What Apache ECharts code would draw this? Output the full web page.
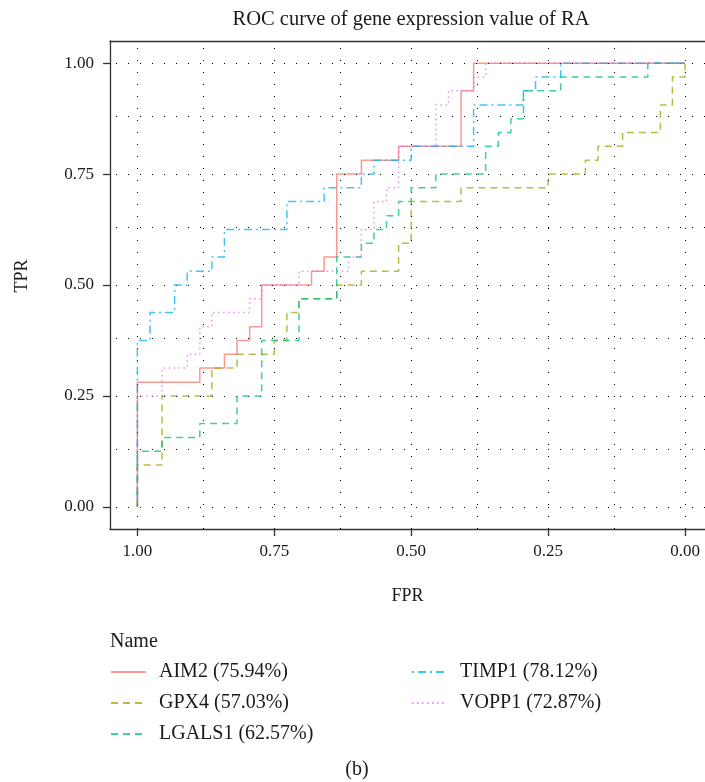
<!DOCTYPE html>
<html><head><meta charset="utf-8">
<script src="https://cdn.jsdelivr.net/npm/echarts@6/dist/echarts.min.js"></script>
<style>html,body{margin:0;padding:0;background:#fff}#c{width:705px;height:782px}</style>
</head><body><div id="c"></div>
<script>
// ---- data (x = value on the reversed "FPR" axis, y = TPR) ----
const tickValues = [0, 0.25, 0.5, 0.75, 1];
const tickLabels = ['0.00', '0.25', '0.50', '0.75', '1.00'];
const gridValues = [0, 0.125, 0.25, 0.375, 0.5, 0.625, 0.75, 0.875, 1];
const seriesNames = ['AIM2 (75.94%)', 'GPX4 (57.03%)', 'LGALS1 (62.57%)', 'TIMP1 (78.12%)', 'VOPP1 (72.87%)'];

const aim2X = [1,1,0.886,0.886,0.841,0.841,0.818,0.818,0.795,0.795,0.773,0.773,0.682,0.682,0.659,0.659,0.636,0.636,0.591,0.591,0.523,0.523,0.409,0.409,0.386,0.386,0];
const aim2Y = [0,0.281,0.281,0.313,0.313,0.344,0.344,0.375,0.375,0.406,0.406,0.5,0.5,0.531,0.531,0.563,0.563,0.75,0.75,0.781,0.781,0.813,0.813,0.938,0.938,1,1];

const gpx4X = [1,1,0.955,0.955,0.864,0.864,0.818,0.818,0.75,0.75,0.727,0.727,0.705,0.705,0.636,0.636,0.591,0.591,0.523,0.523,0.5,0.5,0.409,0.409,0.25,0.25,0.182,0.182,0.159,0.159,0.114,0.114,0.045,0.045,0.023,0.023,0,0];
const gpx4Y = [0,0.094,0.094,0.25,0.25,0.313,0.313,0.344,0.344,0.375,0.375,0.438,0.438,0.469,0.469,0.5,0.5,0.531,0.531,0.594,0.594,0.688,0.688,0.719,0.719,0.75,0.75,0.781,0.781,0.813,0.813,0.844,0.844,0.906,0.906,0.969,0.969,1];

const lgals1X = [1,1,0.955,0.955,0.886,0.886,0.818,0.818,0.773,0.773,0.705,0.705,0.636,0.636,0.591,0.591,0.568,0.568,0.545,0.545,0.523,0.523,0.5,0.5,0.455,0.455,0.364,0.364,0.341,0.341,0.318,0.318,0.295,0.295,0.227,0.227,0.068,0.068,0];
const lgals1Y = [0,0.125,0.125,0.156,0.156,0.188,0.188,0.25,0.25,0.375,0.375,0.469,0.469,0.563,0.563,0.594,0.594,0.625,0.625,0.656,0.656,0.688,0.688,0.719,0.719,0.75,0.75,0.813,0.813,0.844,0.844,0.875,0.875,0.938,0.938,0.969,0.969,1,1];

const timp1X = [1,1,0.977,0.977,0.932,0.932,0.909,0.909,0.864,0.864,0.841,0.841,0.727,0.727,0.659,0.659,0.591,0.591,0.568,0.568,0.5,0.5,0.386,0.386,0.295,0.295,0.273,0.273,0.227,0.227,0];
const timp1Y = [0,0.375,0.375,0.438,0.438,0.5,0.5,0.531,0.531,0.563,0.563,0.625,0.625,0.688,0.688,0.719,0.719,0.75,0.75,0.781,0.781,0.813,0.813,0.906,0.906,0.938,0.938,0.969,0.969,1,1];

const vopp1X = [1,1,0.955,0.955,0.909,0.909,0.886,0.886,0.864,0.864,0.795,0.795,0.773,0.773,0.705,0.705,0.614,0.614,0.591,0.591,0.568,0.568,0.545,0.545,0.523,0.523,0.455,0.455,0.432,0.432,0.386,0.386,0.364,0.364,0];
const vopp1Y = [0,0.25,0.25,0.313,0.313,0.344,0.344,0.406,0.406,0.438,0.438,0.469,0.469,0.5,0.5,0.531,0.531,0.563,0.563,0.625,0.625,0.688,0.688,0.719,0.719,0.813,0.813,0.906,0.906,0.938,0.938,0.969,0.969,1,1];

// ---- styling ----
const F = '"Liberation Serif", "DejaVu Serif", serif';
const TXT = '#1a1a1a';
const AX = '#333';
const curveStyles = [
  { color: '#F8766D', type: 'solid' },
  { color: '#A3A500', type: [7, 5] },
  { color: '#00BF7D', type: [7, 5] },
  { color: '#00B0F6', type: [2, 4, 8, 4] },
  { color: '#E76BF3', type: [1.5, 3.5] }
];
const xs = [aim2X, gpx4X, lgals1X, timp1X, vopp1X];
const ys = [aim2Y, gpx4Y, lgals1Y, timp1Y, vopp1Y];
function pairs(a, b) { return a.map((v, i) => [v, b[i]]); }
function lab(v) { const i = tickValues.findIndex(t => Math.abs(t - v) < 1e-9); return i >= 0 ? tickLabels[i] : ''; }

const curveSeries = seriesNames.map((name, i) => ({
  name: name,
  type: 'line',
  data: pairs(xs[i], ys[i]),
  symbol: 'none',
  showSymbol: false,
  silent: true,
  animation: false,
  z: 3 + i,
  itemStyle: { color: curveStyles[i].color },
  lineStyle: { color: curveStyles[i].color, width: 1.5, type: curveStyles[i].type, opacity: 0.75 }
}));

const gridSeries = {
  type: 'line',
  data: [],
  silent: true,
  animation: false,
  z: 1,
  markLine: {
    silent: true,
    animation: false,
    symbol: ['none', 'none'],
    label: { show: false },
    emphasis: { disabled: true },
    lineStyle: { color: '#000', width: 1, type: [1, 11] },
    data: gridValues.map(v => ({ xAxis: v })).concat(gridValues.map(v => ({ yAxis: v })))
  }
};

const legendCommon = {
  orient: 'vertical',
  top: 662,
  padding: 0,
  itemWidth: 35,
  itemHeight: 14,
  itemGap: 11,
  selectedMode: false,
  itemStyle: { opacity: 0, borderWidth: 0 },
  textStyle: { fontFamily: F, fontSize: 20, lineHeight: 14, color: TXT, padding: [0, 0, 0, 8] }
};

const chart = echarts.init(document.getElementById('c'), null, { renderer: 'canvas' });
chart.setOption({
  animation: false,
  backgroundColor: '#fff',
  grid: { left: 110, top: 41, width: 595, height: 488, show: false },
  xAxis: [{
    type: 'value', min: -0.0365, max: 1.05, inverse: true,
    axisLine: { show: true, onZero: false, lineStyle: { color: AX, width: 1.3 } },
    axisTick: { show: true, customValues: tickValues, length: 7, lineStyle: { color: AX, width: 1.3 } },
    axisLabel: { customValues: tickValues, formatter: lab, margin: 14, fontFamily: F, fontSize: 17, color: TXT },
    splitLine: { show: false },
    name: 'FPR', nameLocation: 'middle', nameGap: 58,
    nameTextStyle: { fontFamily: F, fontSize: 18, color: TXT }
  }, {
    type: 'value', position: 'top', min: -0.0365, max: 1.05, inverse: true,
    axisLine: { show: true, onZero: false, lineStyle: { color: AX, width: 1.3 } },
    axisTick: { show: false }, axisLabel: { show: false }, splitLine: { show: false }
  }],
  yAxis: {
    type: 'value', min: -0.05, max: 1.05,
    axisLine: { show: true, onZero: false, lineStyle: { color: AX, width: 1.3 } },
    axisTick: { show: true, customValues: tickValues, length: 7, lineStyle: { color: AX, width: 1.3 } },
    axisLabel: { customValues: tickValues, formatter: lab, margin: 16, fontFamily: F, fontSize: 17, color: TXT },
    splitLine: { show: false }
  },
  legend: [
    Object.assign({}, legendCommon, { left: 110, data: seriesNames.slice(0, 3) }),
    Object.assign({}, legendCommon, { left: 411, data: seriesNames.slice(3) })
  ],
  graphic: [
    { type: 'text', x: 411, y: 20, style: { text: 'ROC curve of gene expression value of RA', fontFamily: F, fontSize: 20.5, fill: TXT, align: 'center', verticalAlign: 'middle' } },
    { type: 'text', x: 22, y: 276, rotation: Math.PI / 2, style: { text: 'TPR', fontFamily: F, fontSize: 18, fill: TXT, align: 'center', verticalAlign: 'middle' } },
    { type: 'text', x: 110, y: 642, style: { text: 'Name', fontFamily: F, fontSize: 20, fill: TXT, align: 'left', verticalAlign: 'middle' } },
    { type: 'text', x: 357, y: 770, style: { text: '(b)', fontFamily: F, fontSize: 20, fill: TXT, align: 'center', verticalAlign: 'middle' } }
  ],
  series: [gridSeries].concat(curveSeries)
});
</script></body></html>
